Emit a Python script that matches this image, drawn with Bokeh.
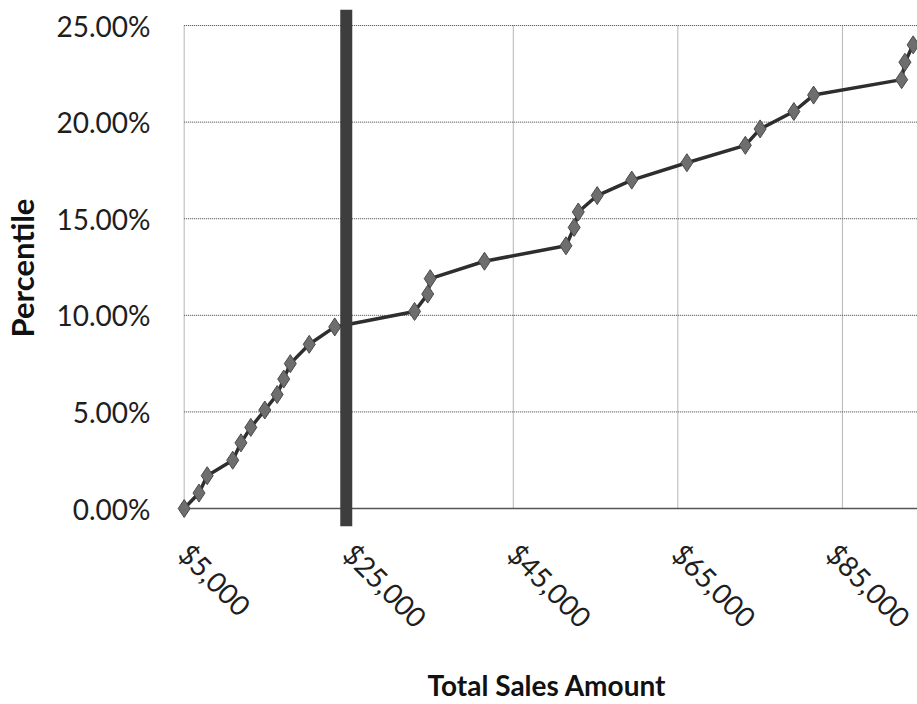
import math
from bokeh.plotting import figure
from bokeh.models import Range1d, FixedTicker, NumeralTickFormatter, ColumnDataSource
from bokeh.embed import file_html
from bokeh.resources import INLINE

# ---- data ----
sales = [5000, 6800, 7800, 10900, 11900, 13100, 14800, 16300, 17100, 17900,
         20200, 23300, 33000, 34600, 34900, 41500, 51400, 52400, 52900, 55200,
         59400, 66100, 73200, 75000, 79100, 81500, 92200, 92600, 93600]
percentile = [0.000, 0.008, 0.017, 0.025, 0.034, 0.042, 0.051, 0.059, 0.067, 0.075,
              0.085, 0.094, 0.102, 0.111, 0.119, 0.128, 0.136, 0.1455, 0.1535, 0.162,
              0.170, 0.179, 0.188, 0.1965, 0.2055, 0.214, 0.222, 0.231, 0.240]
x_ticks = [5000, 25000, 45000, 65000, 85000]
y_ticks = [0.0, 0.05, 0.10, 0.15, 0.20, 0.25]
cutoff_sales = 24700

FONT = "Lato"

x_min, x_max = x_ticks[0], 94127
y_min, y_max = y_ticks[0], y_ticks[-1]

p = figure(width=917, height=704, output_backend="svg", toolbar_location=None,
           x_range=Range1d(4067, x_max), y_range=Range1d(-0.0093, 0.2583),
           min_border_left=174, min_border_right=0, min_border_top=9,
           min_border_bottom=177, background_fill_color="white",
           border_fill_color="white")
p.outline_line_color = None
p.xgrid.visible = False
p.ygrid.visible = False

# horizontal dotted gridlines
hy = y_ticks[1:]
p.segment(x0=[x_min] * len(hy), x1=[x_max] * len(hy), y0=hy, y1=hy,
          line_color="#3c3c3c", line_width=1, line_dash="1 1")
# vertical dotted gridlines (incl. left border)
p.segment(x0=x_ticks, x1=x_ticks, y0=[y_min] * len(x_ticks), y1=[y_max] * len(x_ticks),
          line_color="#6a6a6a", line_width=1, line_dash="1 1")
# bottom axis line
p.segment(x0=[x_min], x1=[x_max], y0=[y_min], y1=[y_min],
          line_color="#555555", line_width=1.5)

src = ColumnDataSource(dict(x=sales, y=percentile))
p.line("x", "y", source=src, line_color="#2e2e2e", line_width=3.5)
p.scatter("x", "y", source=src, marker="diamond", size=18,
          fill_color="#6e6e6e", line_color="#4a4a4a", line_width=1)

# thick cutoff line
p.segment(x0=[cutoff_sales], x1=[cutoff_sales], y0=[-0.0093], y1=[0.2583],
          line_color="#3d3d3d", line_width=12)

# axes
xa = p.xaxis[0]
xa.ticker = FixedTicker(ticks=x_ticks)
xa.formatter = NumeralTickFormatter(format="$0,0")
xa.major_label_orientation = -math.pi / 4
xa.axis_line_color = None
xa.major_tick_line_color = None
xa.minor_tick_line_color = None
xa.major_label_text_font = FONT
xa.major_label_text_font_size = "28px"
xa.major_label_text_color = "#1e1e1e"
xa.major_label_standoff = 16
xa.axis_label = "Total Sales Amount"
xa.axis_label_text_font = FONT
xa.axis_label_text_font_style = "bold"
xa.axis_label_text_font_size = "28px"
xa.axis_label_text_color = "#111111"
xa.axis_label_standoff = 19

ya = p.yaxis[0]
ya.ticker = FixedTicker(ticks=y_ticks)
ya.formatter = NumeralTickFormatter(format="0.00%")
ya.axis_line_color = None
ya.major_tick_line_color = None
ya.minor_tick_line_color = None
ya.major_label_text_font = FONT
ya.major_label_text_font_size = "28px"
ya.major_label_text_color = "#1e1e1e"
ya.major_label_standoff = 20
ya.axis_label = "Percentile"
ya.axis_label_text_font = FONT
ya.axis_label_text_font_style = "bold"
ya.axis_label_text_font_size = "31px"
ya.axis_label_text_color = "#111111"
ya.axis_label_standoff = 12

open("out.html", "w").write(file_html(p, INLINE))
